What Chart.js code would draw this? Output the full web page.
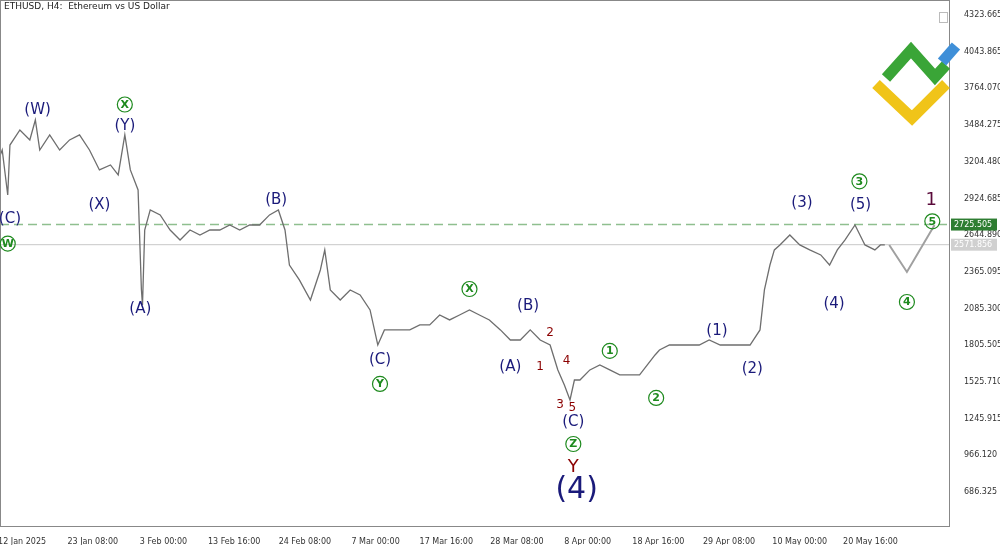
<!DOCTYPE html>
<html><head><meta charset="utf-8">
<script src="https://cdn.jsdelivr.net/npm/chart.js@4/dist/chart.umd.min.js"></script>
<style>html,body{margin:0;padding:0;background:#fff}#w{width:1000px;height:545px}</style>
</head><body><div id="w"><canvas id="c"></canvas></div>
<script>
const barIndex=[0,2,7,9,18,27,32,36,45,54,63,72,81,90,100,107,113,118,125,128,129,131,136,145,154,163,172,181,190,199,208,217,226,235,244,252,258,262,271,281,290,294,299,308,317,326,335,342,348,357,371,380,389,398,407,416,425,434,443,453,462,471,480,489,498,505,511,516,520,525,534,543,552,561,570,579,593,597,606,615,624,633,642,652,661,670,679,688,692,697,701,706,715,724,733,743,751,758,765,774,783,792,797,801];
const price=[3250,3294,2951,3332,3447,3371,3523,3294,3409,3294,3371,3409,3294,3142,3180,3104,3409,3142,2989,2230,2113,2684,2837,2799,2684,2608,2684,2646,2684,2684,2722,2684,2722,2722,2799,2837,2684,2417,2303,2150,2379,2532,2227,2150,2227,2189,2074,1807,1922,1922,1922,1960,1960,2036,1998,2036,2074,2036,1998,1922,1845,1845,1922,1845,1807,1617,1500,1388,1540,1540,1617,1655,1617,1579,1579,1579,1731,1769,1807,1807,1807,1807,1845,1807,1807,1807,1807,1922,2227,2417,2532,2570,2646,2570,2532,2494,2417,2532,2608,2722,2570,2532,2570,2570];
const projBar=[805,821,846];
const projPrice=[2570,2364,2722];
const yTicks=[686.325,966.120,1245.915,1525.710,1805.505,2085.300,2365.095,2644.890,2924.685,3204.480,3484.275,3764.070,4043.865,4323.665];
const xTickBars=[20,84,148,212,276,340,404,468,532,596,660,724,788];
const xTickLabels=["12 Jan 2025","23 Jan 08:00","3 Feb 00:00","13 Feb 16:00","24 Feb 08:00","7 Mar 00:00","17 Mar 16:00","28 Mar 08:00","8 Apr 00:00","18 Apr 16:00","29 Apr 08:00","10 May 00:00","20 May 16:00"];
const levelGreen=2725.505, levelGray=2571.856;
const NAVY='#1a1a7a',GREEN='#1e8a1e',RED='#8b0000',PURP='#5a0a3a';
const waveLabels=[
[9,2770,"(C)",NAVY,0,15],[7,2580,"W",GREEN,1,15],
[34,3600,"(W)",NAVY,0,15],[113,3641,"X",GREEN,1,15],[113,3480,"(Y)",NAVY,0,15],
[90,2870,"(X)",NAVY,0,15],[127,2080,"(A)",NAVY,0,15],[250,2910,"(B)",NAVY,0,15],
[344,1690,"(C)",NAVY,0,15],[344,1510,"Y",GREEN,1,15],[425,2234,"X",GREEN,1,15],
[478,2102,"(B)",NAVY,0,15],[462,1640,"(A)",NAVY,0,15],
[489,1640,"1",RED,0,12],[498,1900,"2",RED,0,12],[507,1350,"3",RED,0,12],[513,1687,"4",RED,0,12],[518,1327,"5",RED,0,12],
[519,1220,"(C)",NAVY,0,15],[519,1052,"Z",GREEN,1,15],[519,877,"Y",RED,0,18],[522,700,"(4)",NAVY,0,30],
[552,1762,"1",GREEN,1,15],[594,1403,"2",GREEN,1,15],[649,1914,"(1)",NAVY,0,15],[681,1624,"(2)",NAVY,0,15],
[726,2887,"(3)",NAVY,0,15],[779,2872,"(5)",NAVY,0,15],[778,3055,"3",GREEN,1,15],[755,2120,"(4)",NAVY,0,15],
[821,2135,"4",GREEN,1,15],[844,2750,"5",GREEN,1,15],[843,2910,"1",PURP,0,18]];

const overlay={id:'ov',
 beforeDatasetsDraw(ch){const c=ch.ctx,y=ch.scales.y,a=ch.chartArea;c.save();
  c.strokeStyle='#8fbf8f';c.setLineDash([9,5]);c.lineWidth=1.5;let p=y.getPixelForValue(levelGreen);
  c.beginPath();c.moveTo(a.left,p);c.lineTo(a.right,p);c.stroke();
  c.setLineDash([]);c.strokeStyle='#c8c8c8';c.lineWidth=1;p=y.getPixelForValue(levelGray);
  c.beginPath();c.moveTo(a.left,p);c.lineTo(a.right,p);c.stroke();c.restore();},
 afterDraw(ch){const c=ch.ctx,x=ch.scales.x,y=ch.scales.y,a=ch.chartArea;c.save();
  c.strokeStyle='#888';c.lineWidth=1;c.strokeRect(a.left+0.5,a.top+0.5,a.right-a.left-1,a.bottom-a.top-1);
  c.font='9px "DejaVu Sans"';c.fillStyle='#222';c.textBaseline='middle';c.textAlign='left';c.fillText('ETHUSD, H4:  Ethereum vs US Dollar',4,7);
  [[levelGreen,'#2e7d32','#fff'],[levelGray,'#d0d0d0','#fff']].forEach(([v,bg,fg])=>{const p=y.getPixelForValue(v);
   c.fillStyle=bg;c.fillRect(a.right+1,p-6,46,12);c.fillStyle=fg;c.font='8px "DejaVu Sans"';c.textAlign='left';
   c.fillText(v.toFixed(3),a.right+4,p);});
  waveLabels.forEach(([b,v,t,col,circ,s])=>{const px=x.getPixelForValue(b),py=y.getPixelForValue(v);
   c.fillStyle=col;c.strokeStyle=col;c.textAlign='center';c.textBaseline='middle';
   if(circ){c.lineWidth=1.2;c.beginPath();c.arc(px,py,7.5,0,Math.PI*2);c.stroke();c.font='bold 11px "DejaVu Sans"';c.fillText(t,px,py+0.5);}
   else{c.font=s+'px "DejaVu Sans"';c.fillText(t,px,py);}});
  c.lineCap='butt';c.lineWidth=11;
  c.strokeStyle='#f0c419';c.beginPath();c.moveTo(876,84);c.lineTo(912,118);c.lineTo(946,84);c.stroke();
  c.strokeStyle='#3aa537';c.beginPath();c.moveTo(886,78);c.lineTo(911,50);c.lineTo(935,77);c.lineTo(946,65);c.stroke();
  c.strokeStyle='#3f8fd8';c.beginPath();c.moveTo(942,62);c.lineTo(956,46);c.stroke();
  c.lineWidth=1;c.strokeStyle='#bbb';c.strokeRect(939.5,12.5,8,10);
  c.restore();}};

new Chart(document.getElementById('c'),{type:'line',
 data:{datasets:[
  {data:barIndex.map((b,i)=>({x:b,y:price[i]})),borderColor:'#6e6e6e',borderWidth:1.3,pointRadius:0,tension:0},
  {data:projBar.map((b,i)=>({x:b,y:projPrice[i]})),borderColor:'#a0a0a0',borderWidth:2,pointRadius:0,tension:0}]},
 options:{responsive:true,maintainAspectRatio:false,animation:false,
  layout:{padding:0},
  plugins:{legend:{display:false},tooltip:{enabled:false}},
  scales:{
   x:{type:'linear',min:0,max:860,grid:{display:false},border:{display:false},
    afterBuildTicks(s){s.ticks=xTickBars.map(v=>({value:v}));},
    afterFit(s){s.height=18;s.paddingLeft=0;s.paddingRight=0;},
    ticks:{autoSkip:false,maxRotation:0,font:{size:8,family:'DejaVu Sans'},color:'#333',padding:2,
     callback(v){const i=xTickBars.indexOf(v);return i>=0?xTickLabels[i]:'';}}},
   y:{position:'right',min:419,max:4438,grid:{display:false},border:{display:false},
    afterBuildTicks(s){s.ticks=yTicks.map(v=>({value:v}));},
    afterFit(s){s.width=50;s.paddingTop=0;s.paddingBottom=0;},
    ticks:{autoSkip:false,font:{size:8,family:'DejaVu Sans'},color:'#333',padding:6,callback(v){return v.toFixed(3);}}}}},
 plugins:[overlay]});
</script></body></html>
